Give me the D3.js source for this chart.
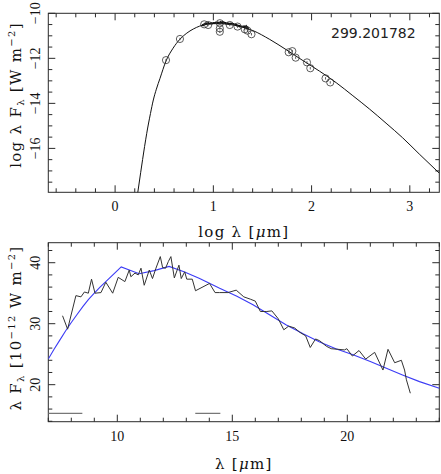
<!DOCTYPE html>
<html><head><meta charset="utf-8">
<script src="https://cdn.jsdelivr.net/npm/d3@7"></script>
<style>
html,body{margin:0;padding:0;background:#fff;}
svg{display:block;}
</style></head>
<body>
<script>
// ---------- DATA ----------
// Top panel: photometric SED points (log lambda [um], log lambda F_lambda [W m^-2])
const sedLogLam = [0.518, 0.66, 0.907, 0.947, 1.066, 1.066, 1.066, 1.167, 1.246, 1.32, 1.347, 1.388, 1.767, 1.804, 1.838, 1.953, 1.987, 2.142, 2.19];
const sedLogF   = [-12.08, -11.14, -10.49, -10.52, -10.44, -10.67, -10.82, -10.52, -10.59, -10.71, -10.77, -10.93, -11.73, -11.68, -11.97, -12.18, -12.44, -12.89, -13.07];
// Top panel: model SED curve
const modelLogLam = [0.225, 0.26, 0.30, 0.322, 0.36, 0.389, 0.42, 0.457, 0.518, 0.59, 0.66, 0.73, 0.795, 0.86, 0.914, 0.99, 1.066, 1.17, 1.269, 1.404, 1.574, 1.743, 1.912, 2.081, 2.25, 2.42, 2.589, 2.758, 2.927, 3.096, 3.3];
const modelLogF   = [-18.13, -17.08, -15.92, -15.33, -14.45, -13.85, -13.37, -12.89, -12.12, -11.55, -11.15, -10.88, -10.7, -10.57, -10.5, -10.46, -10.46, -10.5, -10.58, -10.77, -11.16, -11.62, -12.1, -12.57, -13.08, -13.66, -14.25, -14.88, -15.53, -16.25, -17.1];
// Bottom panel: IRS spectrum (lambda [um], lambda F_lambda [1e-12 W m^-2])
const specLam = [7.62, 7.84, 8.20, 8.42, 8.57, 8.74, 8.88, 9.03, 9.29, 9.50, 9.80, 10.04, 10.33, 10.52, 10.59, 10.77, 10.91, 11.03, 11.17, 11.39, 11.53, 11.68, 11.87, 11.97, 12.10, 12.22, 12.33, 12.48, 12.68, 12.78, 12.93, 13.02, 13.26, 13.40, 14.01, 14.25, 14.45, 14.81, 15.17, 15.50, 15.80, 16.00, 16.22, 16.50, 16.72, 17.00, 17.24, 17.45, 17.71, 17.93, 18.19, 18.39, 18.62, 18.80, 19.09, 19.30, 19.59, 19.88, 19.98, 20.22, 20.51, 20.80, 21.19, 21.55, 21.77, 22.06, 22.35, 22.49, 22.57, 22.74];
const specF   = [31.3, 29.1, 34.6, 34.4, 35.2, 35.0, 37.3, 35.0, 35.1, 36.8, 35.0, 37.6, 36.9, 38.8, 37.7, 38.3, 38.0, 39.1, 36.3, 38.8, 37.4, 39.1, 41.0, 39.2, 39.1, 40.2, 41.0, 37.5, 39.6, 37.4, 38.5, 37.3, 37.3, 35.4, 36.6, 35.1, 35.1, 35.1, 35.5, 34.4, 34.0, 33.7, 32.0, 32.0, 32.1, 30.8, 29.0, 29.6, 29.3, 28.6, 28.0, 26.1, 27.5, 27.2, 26.3, 25.9, 25.8, 25.7, 25.9, 24.7, 25.6, 24.2, 25.3, 22.4, 25.8, 23.6, 24.0, 22.4, 20.8, 18.6];
// Bottom panel: model spectrum (blue)
const fitLam = [7.0, 7.25, 7.5, 7.75, 8.0, 8.25, 8.5, 8.75, 9.0, 9.25, 9.5, 9.75, 10.0, 10.17, 10.95, 11.6, 12.25, 12.9, 13.58, 14.45, 15.2, 15.9, 16.6, 17.35, 18.1, 18.8, 19.5, 20.25, 21.0, 21.7, 22.4, 23.14, 24.0];
const fitF   = [24.2, 25.8, 27.3, 28.8, 30.2, 31.5, 32.8, 34.0, 35.0, 36.0, 36.9, 37.8, 38.7, 39.3, 38.2, 38.7, 39.4, 38.5, 37.4, 35.8, 34.5, 33.1, 31.5, 29.8, 28.3, 27.0, 25.9, 24.9, 23.8, 22.7, 21.6, 20.5, 19.4];
// Bottom panel: grey wavelength-range markers
const bandStart = [7.0, 13.39];
const bandEnd   = [8.48, 14.48];
const bandLevel = [15.3, 15.3];
// Axis ticks
const topXTicks = [0, 1, 2, 3];
const topYTicks = [-10, -12, -14, -16];
const botXTicks = [10, 15, 20];
const botYTicks = [20, 30, 40];
const sourceLabel = "299.201782";

// ---------- LAYOUT ----------
const W = 441, H = 474;
const svg = d3.select("body").append("svg").attr("width", W).attr("height", H);
const L = 48.3, R = 439.3;
const top1 = 13.3, bot1 = 192.3, top2 = 242.7, bot2 = 421.7;

const x1 = d3.scaleLinear().domain([-0.68, 3.3]).range([L, R]);
const y1 = d3.scaleLinear().domain([-17.95, -10]).range([bot1, top1]);
const x2 = d3.scaleLinear().domain([7, 24]).range([L, R]);
const y2 = d3.scaleLinear().domain([13.93, 43.28]).range([bot2, top2]);

const tickFont = "'Liberation Serif', 'Times New Roman', serif";
const titleFont = "'DejaVu Serif', serif";
const frameCol = "#2a2a2a";

function clip(id, t, b) {
  svg.append("clipPath").attr("id", id).append("rect")
    .attr("x", L).attr("y", t).attr("width", R - L).attr("height", b - t);
}
clip("c1", top1, bot1); clip("c2", top2, bot2);

function frame(x, y, t, b, xMajor, xMinor, yMajor, yMinor, xLabels, yLabels) {
  const g = svg.append("g");
  const maj = 7, mnr = 4;
  const xd = x.domain(), yd = y.domain();
  const eps = 1e-9;
  function ticks(d, step) {
    const out = [];
    const s = Math.ceil((d[0] - eps) / step);
    const e = Math.floor((d[1] + eps) / step);
    for (let i = s; i <= e; i++) out.push(+(i * step).toFixed(6));
    return out;
  }
  const isMaj = (v, step) => Math.abs(v / step - Math.round(v / step)) < 1e-6;
  ticks(xd, xMinor).forEach(v => {
    const len = isMaj(v, xMajor) ? maj : mnr;
    const px = x(v);
    g.append("line").attr("x1", px).attr("x2", px).attr("y1", b).attr("y2", b - len).attr("stroke", frameCol);
    g.append("line").attr("x1", px).attr("x2", px).attr("y1", t).attr("y2", t + len).attr("stroke", frameCol);
  });
  ticks(yd, yMinor).forEach(v => {
    const len = isMaj(v, yMajor) ? maj : mnr;
    const py = y(v);
    g.append("line").attr("x1", L).attr("x2", L + len).attr("y1", py).attr("y2", py).attr("stroke", frameCol);
    g.append("line").attr("x1", R).attr("x2", R - len).attr("y1", py).attr("y2", py).attr("stroke", frameCol);
  });
  g.append("rect").attr("x", L).attr("y", t).attr("width", R - L).attr("height", b - t)
    .attr("fill", "none").attr("stroke", frameCol).attr("stroke-width", 1);
  xLabels.forEach(v => {
    g.append("text").attr("x", x(v)).attr("y", b + 19).attr("text-anchor", "middle")
      .attr("font-family", tickFont).attr("font-size", 14).attr("fill", "#111")
      .text(v < 0 ? "\u2212" + Math.abs(v) : String(v));
  });
  yLabels.forEach(v => {
    g.append("text").attr("transform", `translate(39.5,${y(v)}) rotate(-90)`).attr("text-anchor", "middle")
      .attr("font-family", tickFont).attr("font-size", 14).attr("fill", "#111")
      .text(v < 0 ? "\u2212" + Math.abs(v) : String(v));
  });
}

// ---------- TOP PANEL ----------
frame(x1, y1, top1, bot1, 1, 0.2, 2, 0.5, topXTicks, topYTicks);
const gTop = svg.append("g").attr("clip-path", "url(#c1)");
const lineTop = d3.line().x(d => x1(d[0])).y(d => y1(d[1])).curve(d3.curveMonotoneX);
gTop.append("path").datum(d3.zip(modelLogLam, modelLogF)).attr("d", lineTop)
  .attr("fill", "none").attr("stroke", "#111").attr("stroke-width", 1);
// spectrum in log space (same data as bottom panel)
const specLog = d3.zip(specLam, specF).map(d => [Math.log10(d[0]), Math.log10(d[1]) - 12]);
gTop.append("path").datum(specLog)
  .attr("d", d3.line().x(d => x1(d[0])).y(d => y1(d[1])))
  .attr("fill", "none").attr("stroke", "#111").attr("stroke-width", 1.8);
const pts = d3.zip(sedLogLam, sedLogF);
gTop.selectAll("circle.p").data(pts).join("circle")
  .attr("cx", d => x1(d[0])).attr("cy", d => y1(d[1])).attr("r", 3.6)
  .attr("fill", "none").attr("stroke", "#333").attr("stroke-width", 0.8);
gTop.selectAll("line.e").data(pts).join("line")
  .attr("x1", d => x1(d[0])).attr("x2", d => x1(d[0]))
  .attr("y1", d => y1(d[1]) - 1.2).attr("y2", d => y1(d[1]) + 1.2)
  .attr("stroke", "#333").attr("stroke-width", 0.8);
svg.append("text").attr("x", 331).attr("y", 38.3)
  .attr("font-family", "'DejaVu Sans', sans-serif").attr("font-size", 14).attr("fill", "#222")
  .text(sourceLabel);

// y title top
const t1 = svg.append("text").attr("transform", `translate(21,95) rotate(-90)`)
  .attr("text-anchor", "middle").attr("font-family", titleFont).attr("font-size", 15)
  .attr("letter-spacing", 1.3).attr("fill", "#111");
t1.append("tspan").text("log \u03bb F");
t1.append("tspan").attr("font-size", 10).attr("dy", 3).text("\u03bb");
t1.append("tspan").attr("dy", -3).text(" [W m");
t1.append("tspan").attr("font-size", 10).attr("dy", -6).text("\u22122");
t1.append("tspan").attr("dy", 6).text("]");
// x title top
const xt1 = svg.append("text").attr("x", (L + R) / 2).attr("y", 237)
  .attr("text-anchor", "middle").attr("font-family", titleFont).attr("font-size", 15)
  .attr("letter-spacing", 1.3).attr("fill", "#111");
xt1.append("tspan").text("log \u03bb [");
xt1.append("tspan").attr("font-style", "italic").text("\u03bc");
xt1.append("tspan").text("m]");

// ---------- BOTTOM PANEL ----------
frame(x2, y2, top2, bot2, 5, 1, 10, 2, botXTicks, botYTicks);
const gBot = svg.append("g").attr("clip-path", "url(#c2)");
gBot.selectAll("line.band").data(d3.range(bandStart.length)).join("line")
  .attr("x1", i => x2(bandStart[i])).attr("x2", i => x2(bandEnd[i]))
  .attr("y1", i => y2(bandLevel[i])).attr("y2", i => y2(bandLevel[i]))
  .attr("stroke", "#777").attr("stroke-width", 1.2);
gBot.append("path").datum(d3.zip(fitLam, fitF))
  .attr("d", d3.line().x(d => x2(d[0])).y(d => y2(d[1])))
  .attr("fill", "none").attr("stroke", "#3b3bf5").attr("stroke-width", 1.1);
gBot.append("path").datum(d3.zip(specLam, specF))
  .attr("d", d3.line().x(d => x2(d[0])).y(d => y2(d[1])))
  .attr("fill", "none").attr("stroke", "#333").attr("stroke-width", 1);

const t2 = svg.append("text").attr("transform", `translate(21,328) rotate(-90)`)
  .attr("text-anchor", "middle").attr("font-family", titleFont).attr("font-size", 15)
  .attr("letter-spacing", 1.3).attr("fill", "#111");
t2.append("tspan").text("\u03bb F");
t2.append("tspan").attr("font-size", 10).attr("dy", 3).text("\u03bb");
t2.append("tspan").attr("dy", -3).text(" [10");
t2.append("tspan").attr("font-size", 10).attr("dy", -6).text("\u221212");
t2.append("tspan").attr("dy", 6).text(" W m");
t2.append("tspan").attr("font-size", 10).attr("dy", -6).text("\u22122");
t2.append("tspan").attr("dy", 6).text("]");
const xt2 = svg.append("text").attr("x", (L + R) / 2).attr("y", 469)
  .attr("text-anchor", "middle").attr("font-family", titleFont).attr("font-size", 15)
  .attr("letter-spacing", 1.3).attr("fill", "#111");
xt2.append("tspan").text("\u03bb [");
xt2.append("tspan").attr("font-style", "italic").text("\u03bc");
xt2.append("tspan").text("m]");
</script>
</body></html>
